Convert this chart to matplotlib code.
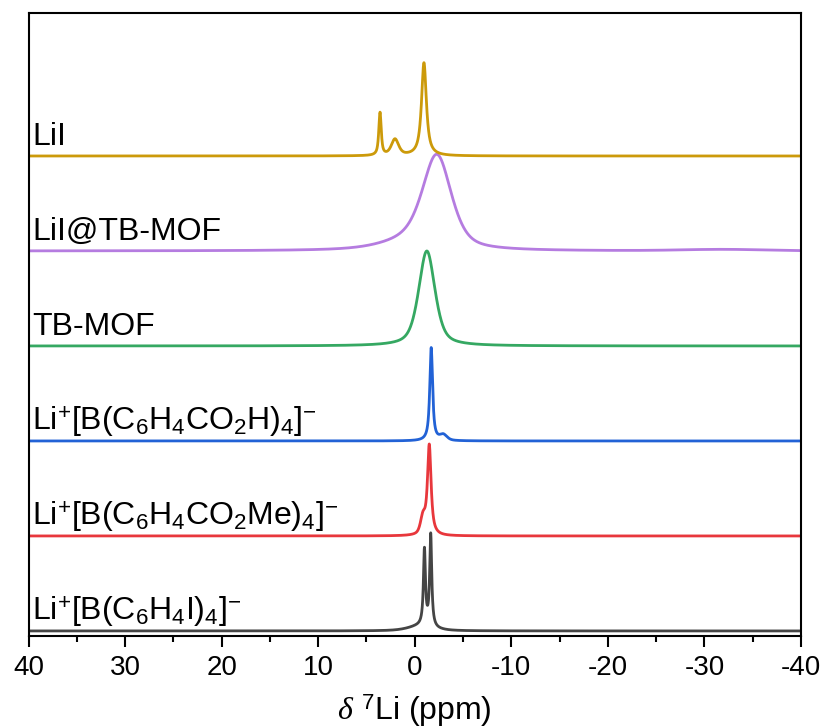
import numpy as np
import matplotlib.pyplot as plt
from matplotlib.ticker import MultipleLocator

plt.rcParams['font.family'] = 'Liberation Sans'
plt.rcParams['mathtext.fontset'] = 'custom'
plt.rcParams['mathtext.rm'] = 'Liberation Sans'
plt.rcParams['mathtext.it'] = 'Liberation Serif:italic'
plt.rcParams['mathtext.bf'] = 'Liberation Sans:bold'
plt.rcParams['axes.unicode_minus'] = False

# Spectra, bottom to top; each described by its peaks (ppm, height, FWHM, Lorentz fraction)
labels = [r'Li$^{+}$[B(C$_6$H$_4$I)$_4$]$^{-}$',
          r'Li$^{+}$[B(C$_6$H$_4$CO$_2$Me)$_4$]$^{-}$',
          r'Li$^{+}$[B(C$_6$H$_4$CO$_2$H)$_4$]$^{-}$',
          'TB-MOF',
          'LiI@TB-MOF',
          'LiI']
colors = ['#454545', '#e8373c', '#2262d6', '#35a862', '#b57ce0', '#cc9a0a']

centers = [[-1.0, -1.65, -0.6],
           [-1.5, -0.85],
           [-1.7, -2.95],
           [-1.25],
           [-2.3, 0.2, -32.0],
           [-0.95, 3.6, 2.05]]
heights = [[0.80, 0.97, 0.05],
           [0.95, 0.17],
           [0.98, 0.06],
           [1.0],
           [0.95, 0.10, 0.015],
           [0.98, 0.45, 0.17]]
fwhms = [[0.25, 0.25, 3.0],
         [0.45, 0.6],
         [0.35, 0.9],
         [2.0],
         [3.5, 7.0, 10.0],
         [0.6, 0.3, 0.9]]
lorentz = [[1.0, 1.0, 0.6],
           [0.9, 0.5],
           [0.9, 0.5],
           [0.55],
           [0.5, 0.6, 0.0],
           [0.9, 0.8, 0.6]]
offset = 1.0

x = np.linspace(40, -40, 8001)


def spectrum(c_list, h_list, w_list, e_list):
    y = np.zeros_like(x)
    for c, h, w, e in zip(c_list, h_list, w_list, e_list):
        lor = 1.0 / (1.0 + ((x - c) / (w / 2)) ** 2)
        gau = np.exp(-4 * np.log(2) * ((x - c) / w) ** 2)
        y += h * (e * lor + (1 - e) * gau)
    return y


fig, ax = plt.subplots(figsize=(8.22, 7.28), dpi=100)
fig.subplots_adjust(left=0.0347, right=0.9745, top=0.9821, bottom=0.1264)

for i in range(len(labels)):
    y = spectrum(centers[i], heights[i], fwhms[i], lorentz[i]) + i * offset
    ax.plot(x, y, color=colors[i], lw=2.0)
    ax.text(39.6, i * offset + 0.12, labels[i], fontsize=23, ha='left',
            va='baseline', color='black')

ax.set_xlim(40, -40)
ax.set_ylim(-0.053, 6.505)
ax.set_yticks([])
ax.xaxis.set_major_locator(MultipleLocator(10))
ax.xaxis.set_minor_locator(MultipleLocator(5))
ax.tick_params(axis='x', which='major', direction='out', length=8, width=1.5,
               labelsize=20, pad=6)
ax.tick_params(axis='x', which='minor', direction='out', length=4, width=1.5)
for sp in ax.spines.values():
    sp.set_linewidth(1.5)
ax.set_xlabel(r'$\delta$ $^{7}$Li (ppm)', fontsize=23, labelpad=8)

fig.savefig('out.png', dpi=100)
